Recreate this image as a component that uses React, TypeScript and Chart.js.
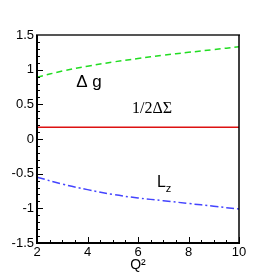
import React, { useEffect, useRef } from "react";
import { Chart, registerables } from "chart.js";

Chart.register(...registerables);

const xValues = [2, 3, 4, 5, 6, 7, 8, 9, 10];
const deltaG = [0.89, 0.98, 1.05, 1.11, 1.16, 1.21, 1.25, 1.29, 1.33];
const halfDeltaSigma = [0.17, 0.17, 0.17, 0.17, 0.17, 0.17, 0.17, 0.17, 0.17];
const lz = [-0.55, -0.65, -0.73, -0.8, -0.85, -0.89, -0.93, -0.97, -1.01];
const xTickLabels = ["2", "4", "6", "8", "10"];
const yTickLabels = ["-1.5", "-1", "-0.5", "0", "0.5", "1", "1.5"];

const SANS = "'Liberation Sans', Arial, sans-serif";
const SERIF = "'Liberation Serif', 'Times New Roman', serif";

const framePlugin = {
  id: "frame",
  afterDraw(chart: any) {
    const ctx = chart.ctx;
    const { left, right, top, bottom } = chart.chartArea;
    const xs = chart.scales.x;
    const ys = chart.scales.y;
    ctx.save();
    ctx.strokeStyle = "#000";
    ctx.lineWidth = 1;
    for (let i = 0; i <= 16; i++) {
      const v = 2 + i * 0.5;
      const px = Math.round(xs.getPixelForValue(v)) + 0.5;
      const len = i % 4 === 0 ? 6 : 3;
      ctx.beginPath();
      ctx.moveTo(px, bottom);
      ctx.lineTo(px, bottom - len);
      ctx.stroke();
    }
    for (let i = 0; i <= 30; i++) {
      const v = -1.5 + i * 0.1;
      const py = Math.round(ys.getPixelForValue(v)) + 0.5;
      const len = i % 5 === 0 ? 6 : 3;
      ctx.beginPath();
      ctx.moveTo(left, py);
      ctx.lineTo(left + len, py);
      ctx.stroke();
    }
    ctx.strokeStyle = "#555";
    ctx.lineWidth = 2;
    ctx.beginPath();
    ctx.moveTo(left - 1, top);
    ctx.lineTo(right + 1, top);
    ctx.stroke();
    ctx.strokeStyle = "#000";
    ctx.lineWidth = 1.5;
    ctx.beginPath();
    ctx.moveTo(right, top);
    ctx.lineTo(right, bottom);
    ctx.stroke();
    ctx.lineWidth = 2;
    ctx.beginPath();
    ctx.moveTo(left, top);
    ctx.lineTo(left, bottom);
    ctx.lineTo(right + 1, bottom);
    ctx.stroke();

    ctx.fillStyle = "#000";
    ctx.textBaseline = "middle";
    ctx.textAlign = "left";
    ctx.font = `17px ${SANS}`;
    ctx.fillText("Δ g", xs.getPixelForValue(3.55), ys.getPixelForValue(0.82));
    ctx.font = `16px ${SERIF}`;
    ctx.fillText("1/2ΔΣ", xs.getPixelForValue(5.76), ys.getPixelForValue(0.44));
    ctx.font = `16px ${SANS}`;
    const lx = xs.getPixelForValue(6.75);
    const ly = ys.getPixelForValue(-0.635);
    ctx.fillText("L", lx, ly);
    const lw = ctx.measureText("L").width;
    ctx.font = `11px ${SANS}`;
    ctx.fillText("z", lx + lw, ly + 6);
    ctx.restore();
  },
};

export default function App() {
  const ref = useRef<HTMLCanvasElement>(null);
  useEffect(() => {
    document.body.style.margin = "0";
    const canvas = ref.current!;
    const mk = (arr: number[]) => xValues.map((x, i) => ({ x, y: arr[i] }));
    const chart = new Chart(canvas, {
      type: "line",
      data: {
        datasets: [
          {
            data: mk(deltaG),
            borderColor: "#22dd22",
            borderWidth: 1.5,
            borderDash: [6, 4],
            pointRadius: 0,
            tension: 0.4,
            fill: false,
          },
          {
            data: mk(halfDeltaSigma),
            borderColor: "#dd1111",
            borderWidth: 1.5,
            pointRadius: 0,
            fill: false,
          },
          {
            data: mk(lz),
            borderColor: "#4444ff",
            borderWidth: 1.5,
            borderDash: [8, 3, 2, 3],
            pointRadius: 0,
            tension: 0.4,
            fill: false,
          },
        ],
      },
      options: {
        animation: false,
        responsive: false,
        devicePixelRatio: 1,
        layout: { padding: { top: 35, right: 34, left: 0, bottom: 0 } },
        plugins: { legend: { display: false }, tooltip: { enabled: false } },
        scales: {
          x: {
            type: "linear",
            min: 2,
            max: 10,
            grid: { display: false, drawTicks: false },
            border: { display: false },
            ticks: {
              stepSize: 2,
              padding: 2,
              color: "#000",
              font: { family: SANS, size: 13 },
              maxRotation: 0,
              callback: (v: any) => {
                const i = xTickLabels.indexOf(String(v));
                return i >= 0 ? xTickLabels[i] : "";
              },
            },
            title: {
              display: true,
              text: "Q²",
              color: "#000",
              font: { family: SANS, size: 14 },
              padding: { top: 0, bottom: 1 },
            },
            afterFit: (s: any) => {
              s.height = 32;
            },
          },
          y: {
            type: "linear",
            min: -1.5,
            max: 1.5,
            grid: { display: false, drawTicks: false },
            border: { display: false },
            ticks: {
              stepSize: 0.5,
              padding: 3,
              color: "#000",
              font: { family: SANS, size: 13 },
              callback: (v: any) => {
                const idx = Math.round((Number(v) + 1.5) / 0.5);
                return yTickLabels[idx] ?? "";
              },
            },
            afterFit: (s: any) => {
              s.width = 37;
            },
          },
        },
      },
      plugins: [framePlugin],
    } as any);
    return () => chart.destroy();
  }, []);
  return <canvas ref={ref} width={273} height={275} style={{ display: "block" }} />;
}
